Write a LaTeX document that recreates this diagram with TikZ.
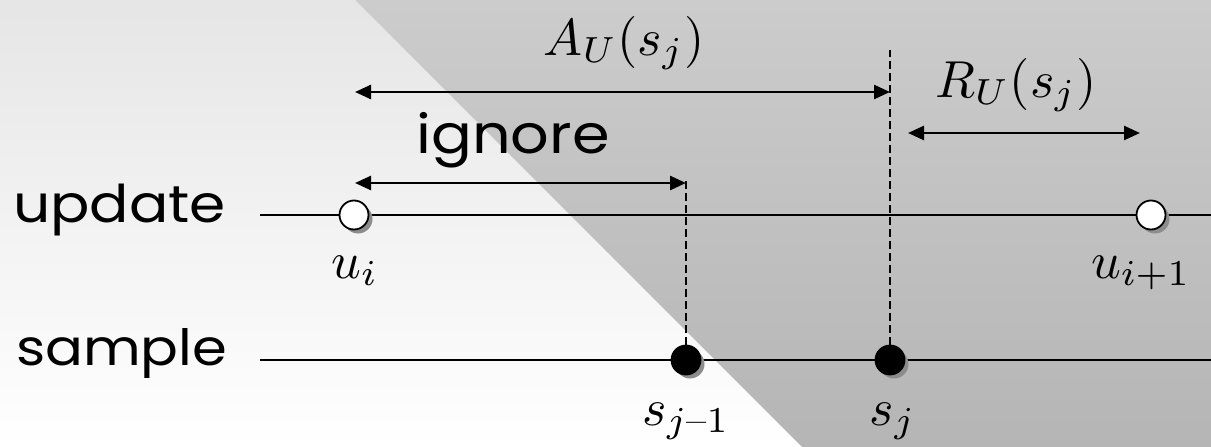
\documentclass[tikz,border=0pt]{standalone}
\usepackage{graphicx}
\usepackage[no-math]{fontspec}
\setmainfont{Poppins}[FakeStretch=1.12]
\usetikzlibrary{arrows.meta,shadows}
\newcommand{\hugemath}[1]{\scalebox{5.2}{\fontsize{10}{12}\selectfont$#1$}}
\newcommand{\shortminus}{\mathord{\mathchar"007B}}
\begin{document}
\begin{tikzpicture}[x=1pt,y=-1pt,
  axis/.style={line width=1.8pt},
  guide/.style={line width=1.8pt, dash pattern=on 8pt off 4pt},
  span/.style={line width=2.5pt, {Triangle[length=16pt,width=14pt]}-{Triangle[length=16pt,width=14pt]}},
  upt/.style={circle, draw, line width=1.8pt, fill=white, minimum size=29pt, inner sep=0pt,
    drop shadow={shadow xshift=4pt, shadow yshift=-4pt, fill=black!45, opacity=1}},
  spt/.style={upt, fill=black},
  word/.style={font=\fontsize{52}{60}\selectfont, anchor=base west, inner sep=0pt},
  mlab/.style={anchor=base, inner sep=0pt}]
\useasboundingbox (0,0) rectangle (1211,447);
% background
\shade[top color=black!10, bottom color=white] (0,0) -- (355,0) -- (802,447) -- (0,447) -- cycle;
\shade[top color=black!20, bottom color=black!29] (355,0) -- (1211,0) -- (1211,447) -- (802,447) -- cycle;
% axes
\coordinate (uL) at (260,215); \coordinate (uR) at (1211,215);
\coordinate (sL) at (260,360); \coordinate (sR) at (1211,360);
\draw[axis] (uL) -- (uR);
\draw[axis] (sL) -- (sR);
% guides
\coordinate (g1) at (686,178);
\coordinate (g2) at (890,50);
% points
\node[upt] (ui) at (354,215) {};
\node[upt] (ui1) at (1151,215) {};
\node[spt] (sj1) at (686,360) {};
\node[spt] (sj) at (890,360) {};
\draw[guide] (sj1.north) -- (g1);
\draw[guide] (sj.north) -- (g2);
% spans
\coordinate (aL) at (355,92); \coordinate (aR) at (890,92);
\coordinate (iL) at (355,183); \coordinate (iR) at (686,183);
\coordinate (rL) at (908,133); \coordinate (rR) at (1140,133);
\draw[span] (aL) -- (aR);
\draw[span] (iL) -- (iR);
\draw[span] (rL) -- (rR);
% labels
\node[word] (tupd) at (13,222) {update};
\node[word, font=\fontsize{50}{60}\selectfont] (tsmp) at (16,365) {sample};
\node[word, anchor=base, font=\fontsize{54}{60}\selectfont] (tign) at (513,153) {ignore};
\node[mlab] (tA) at (624,55) {\hugemath{A_U(s_j)}};
\node[mlab] (tR) at (1016,97) {\hugemath{R_U(s_j)}};
\node[mlab] (tui) at (355,278) {\hugemath{u_i}};
\node[mlab] (tui1) at (1141,278) {\hugemath{u_{i+1}}};
\node[mlab] (tsj1) at (686,425) {\hugemath{s_{j\shortminus1}}};
\node[mlab] (tsj) at (893,425) {\hugemath{s_j}};
\end{tikzpicture}
\end{document}
